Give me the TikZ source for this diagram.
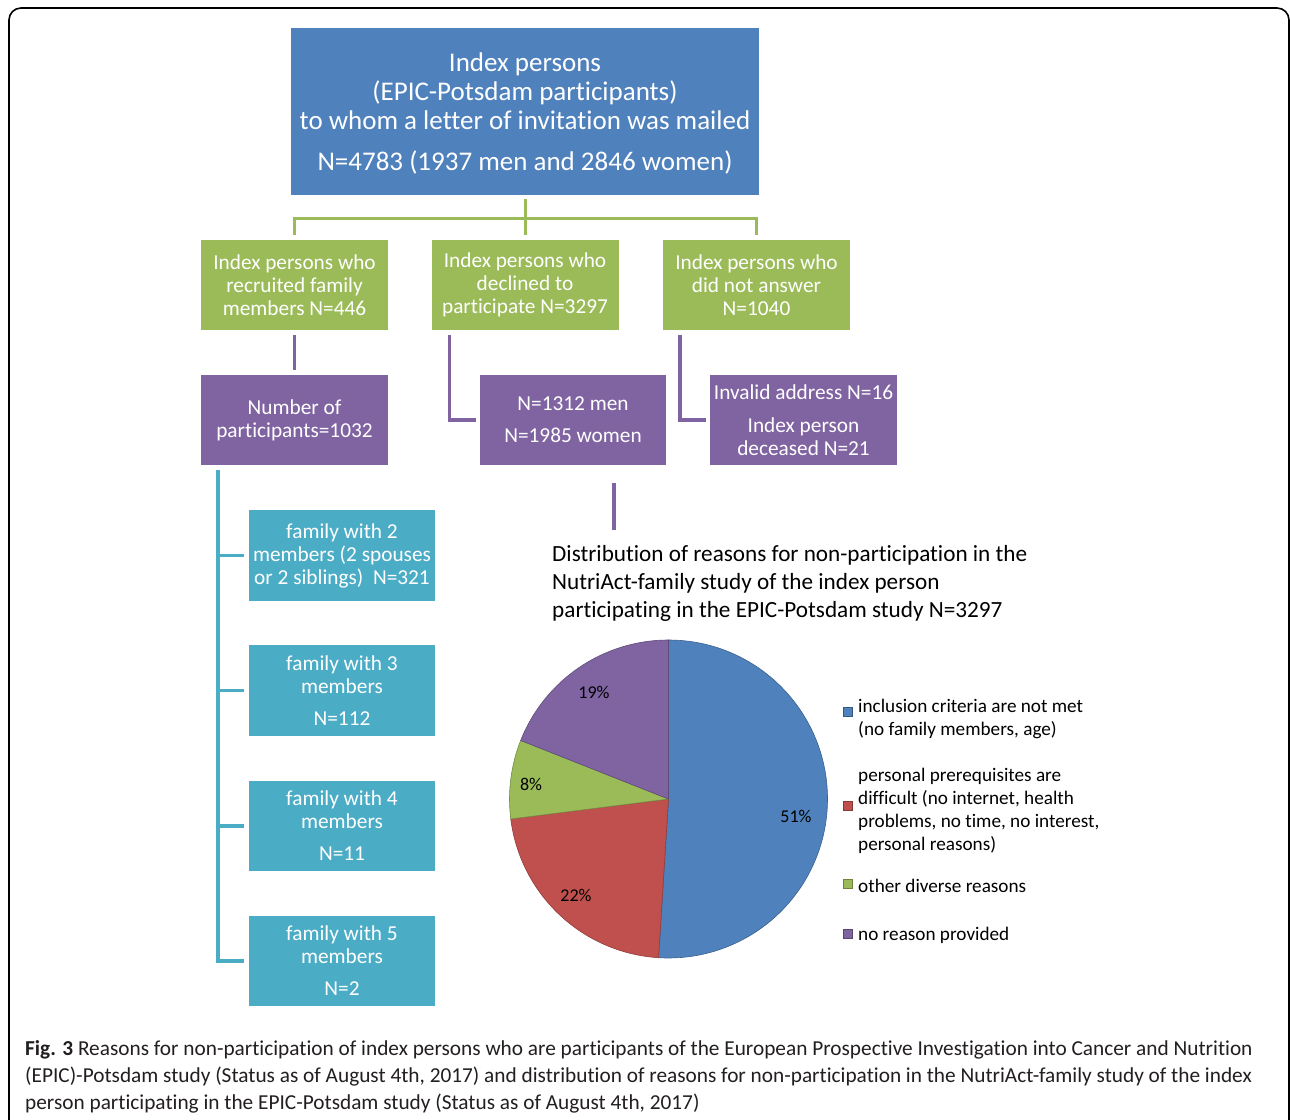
\documentclass[tikz,border=0pt]{standalone}
\usepackage{fontspec}
\setmainfont{Carlito}[Ligatures=NoCommon]
\definecolor{cblue}{HTML}{4F81BD}
\definecolor{cgreen}{HTML}{9BBB59}
\definecolor{cpurple}{HTML}{8064A2}
\definecolor{ccyan}{HTML}{4BACC6}
\definecolor{cred}{HTML}{C0504D}
\definecolor{captext}{HTML}{231F20}
\begin{document}
\begin{tikzpicture}[x=1pt,y=-1pt,
  boxbase/.style={inner sep=0pt, align=center, text=white},
  topbox/.style={boxbase, fill=cblue, minimum width=468pt, minimum height=167pt, font=\fontsize{27}{29}\selectfont},
  greenbox/.style={boxbase, fill=cgreen, minimum width=187pt, minimum height=90pt, font=\fontsize{21.3}{23}\selectfont},
  purplebox/.style={boxbase, fill=cpurple, minimum width=187pt, minimum height=90pt, font=\fontsize{21.3}{23}\selectfont},
  cyanbox/.style={boxbase, fill=ccyan, minimum width=186pt, minimum height=91pt, font=\fontsize{21.3}{23}\selectfont},
  gline/.style={draw=cgreen, line width=3pt},
  pline/.style={draw=cpurple, line width=3.5pt},
  cline/.style={draw=ccyan, line width=3.5pt},
  pielabel/.style={font=\fontsize{18}{20}\selectfont, text=black, inner sep=0pt},
  legsq/.style={minimum size=9pt, inner sep=0pt, line width=0.8pt},
  legtext/.style={anchor=west, align=left, inner sep=0pt, font=\fontsize{19.2}{23}\selectfont, text=black},
]
\useasboundingbox (0,0) rectangle (1290,1119);
\clip (0,0) rectangle (1290,1119);
\fill[white] (0,0) rectangle (1290,1119);
\draw[line width=1.6pt, rounded corners=12pt] (9,8) rectangle (1289,1150);

% top box
\node[topbox] (top) at (525,111.5) {\rule{0pt}{4pt}\\[-10pt]Index persons\\(EPIC-Potsdam participants)\\to whom a letter of invitation was mailed\\[12pt]N=4783 (1937 men and 2846 women)};

% green boxes
\node[greenbox] (g1) at (294.5,285) {Index persons who\\recruited family\\members N=446};
\node[greenbox] (g2) at (525,285) {Index persons who\\declined to\\participate N=3297};
\node[greenbox] (g3) at (756.5,285) {Index persons who\\did not answer\\N=1040};

% purple boxes
\node[purplebox] (pa) at (294.5,420) {Number of\\participants=1032};
\node[purplebox, minimum width=186pt] (pb) at (573,420) {N=1312 men\\[9pt]N=1985 women};
\node[purplebox] (pc) at (803.5,420) {Invalid address N=16\\[10pt]Index person\\deceased N=21};

% cyan boxes
\node[cyanbox] (c1) at (342,555.5) {family with 2\\members (2 spouses\\or 2 siblings)\ \ N=321};
\node[cyanbox] (c2) at (342,690.5) {family with 3\\members\\[9pt]N=112};
\node[cyanbox, minimum height=90pt] (c3) at (342,826) {family with 4\\members\\[9pt]N=11};
\node[cyanbox, minimum height=90pt] (c4) at (342,961) {family with 5\\members\\[9pt]N=2};

% green connectors
\coordinate (bus) at (525,218);
\draw[gline] ([yshift=-4pt]top.south) -- ([yshift=5pt]g2.north);
\draw[gline] ([yshift=5pt]g1.north) |- (bus) -| ([yshift=5pt]g3.north);

% purple connectors
\draw[pline] ([yshift=-5pt]g1.south) -- ([yshift=5pt]pa.north);
\draw[pline] ([xshift=18pt,yshift=-5pt]g2.south west) |- ([xshift=-4pt]pb.west);
\draw[pline] ([xshift=17pt,yshift=-5pt]g3.south west) |- ([xshift=-4pt]pc.west);
\coordinate (chartlink) at (614,530);
\draw[pline] ([xshift=41pt,yshift=-18pt]pb.south) -- (chartlink);

% cyan connectors
\coordinate (trunk) at (218,470);
\draw[cline] (trunk) |- ([xshift=-5pt]c4.west);
\draw[cline] (trunk |- c1.west) -- ([xshift=-5pt]c1.west);
\draw[cline] (trunk |- c2.west) -- ([xshift=-5pt]c2.west);
\draw[cline] (trunk |- c3.west) -- ([xshift=-5pt]c3.west);

% chart title
\node[anchor=west, align=left, inner sep=0pt, font=\fontsize{23.2}{28}\selectfont, text=black] (ctitle) at (552,583) {Distribution of reasons for non-participation in the\\NutriAct-family study of the index person\\participating in the EPIC-Potsdam study N=3297};

% pie
\begin{scope}[shift={(668.5,799)}]
\filldraw[fill=cblue, draw=cblue!75!black, line width=0.6pt] (0,0) -- (90:159pt) arc[start angle=90, end angle=-93.6, radius=159pt] -- cycle;
\filldraw[fill=cred, draw=cred!75!black, line width=0.6pt] (0,0) -- (-93.6:159pt) arc[start angle=-93.6, end angle=-172.8, radius=159pt] -- cycle;
\filldraw[fill=cgreen, draw=cgreen!75!black, line width=0.6pt] (0,0) -- (-172.8:159pt) arc[start angle=-172.8, end angle=-201.6, radius=159pt] -- cycle;
\filldraw[fill=cpurple, draw=cpurple!75!black, line width=0.6pt] (0,0) -- (158.4:159pt) arc[start angle=158.4, end angle=90, radius=159pt] -- cycle;
\end{scope}
\node[pielabel] (l51) at (796,816) {51\%};
\node[pielabel] (l22) at (576,895) {22\%};
\node[pielabel] (l8) at (531,784) {8\%};
\node[pielabel] (l19) at (594,692) {19\%};

% legend
\node[legsq, fill=cblue, draw=cblue!70!black] (s1) at (848,712) {};
\node[legtext] (t1) at (858,719) {inclusion criteria are not met\\(no family members, age)};
\node[legsq, fill=cred, draw=cred!70!black] (s2) at (848,806) {};
\node[legtext] (t2) at (858,811) {personal prerequisites are\\difficult (no internet, health\\problems, no time, no interest,\\personal reasons)};
\node[legsq, fill=cgreen, draw=cgreen!70!black] (s3) at (848,884) {};
\node[legtext] (t3) at (858,886) {other diverse reasons};
\node[legsq, fill=cpurple, draw=cpurple!70!black] (s4) at (848,934) {};
\node[legtext] (t4) at (858,935) {no reason provided};

% caption
\node[anchor=west, align=left, inner sep=0pt, font=\fontsize{21.3}{27}\selectfont, text=captext] (cap) at (25,1077) {\textbf{Fig. 3} Reasons for non-participation of index persons who are participants of the European Prospective Investigation into Cancer and Nutrition\\(EPIC)-Potsdam study (Status as of August 4th, 2017) and distribution of reasons for non-participation in the NutriAct-family study of the index\\person participating in the EPIC-Potsdam study (Status as of August 4th, 2017)};
\end{tikzpicture}
\end{document}
